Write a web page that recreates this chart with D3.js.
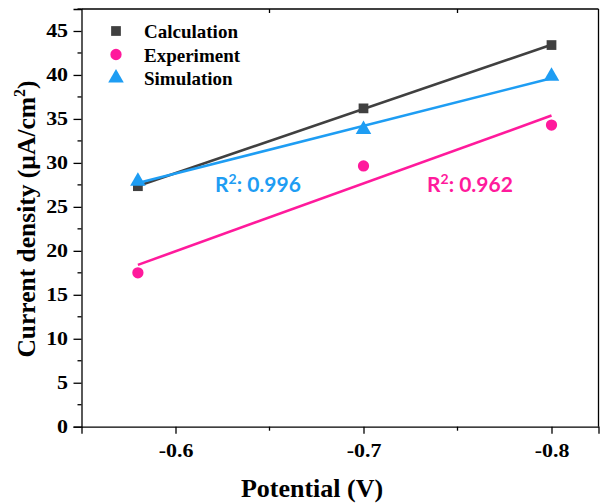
<!DOCTYPE html>
<html>
<head>
<meta charset="utf-8">
<script src="https://cdn.jsdelivr.net/npm/d3@7"></script>
<style>
  html, body { margin: 0; padding: 0; background: #fff; }
  svg { display: block; }
</style>
</head>
<body>
<svg id="chart" width="600" height="503"></svg>
<script>
// Potential (V) at which each current density was obtained
const potentials = [-0.58, -0.7, -0.8];
// Current density (µA/cm²) per series
const calculation = [27.35, 36.2, 43.4];
const experiment = [17.5, 29.65, 34.3];
const simulation = [27.9, 33.8, 39.85];
// Axis ticks
const xMajorTicks = [-0.6, -0.7, -0.8];
const xMinorTicks = [-0.65, -0.75];
const yMajorTicks = [0, 5, 10, 15, 20, 25, 30, 35, 40, 45];
const yMinorTicks = [2.5, 7.5, 12.5, 17.5, 22.5, 27.5, 32.5, 37.5, 42.5, 47.5];
// Goodness-of-fit labels
const r2Simulation = "0.996";
const r2Experiment = "0.962";

const colors = { calc: "#404040", exp: "#FF1A9C", sim: "#1E9DF3" };
const serif = "'Liberation Serif', 'Times New Roman', serif";

const svg = d3.select("#chart");
const x = d3.scaleLinear().domain([-0.55, -0.825]).range([81.5, 598.5]);
const y = d3.scaleLinear().domain([0, 47.5]).range([426.7, 9]);

// Least-squares linear fit evaluated at the first and last potential
function fitLine(xs, ys) {
  const mx = d3.mean(xs), my = d3.mean(ys);
  const sxy = d3.sum(xs, (v, i) => (v - mx) * (ys[i] - my));
  const sxx = d3.sum(xs, v => (v - mx) * (v - mx));
  const b = sxy / sxx, a = my - b * mx;
  const ends = [xs[0], xs[xs.length - 1]];
  return ends.map(v => [v, a + b * v]);
}

// Frame: top and right borders
const [x0, x1] = x.range();
const [yb, yt] = y.range();
svg.append("line").attr("x1", x0).attr("x2", x1).attr("y1", yt).attr("y2", yt)
  .attr("stroke", "#000").attr("stroke-width", 1.3);
svg.append("line").attr("x1", x1).attr("x2", x1).attr("y1", yt).attr("y2", yb)
  .attr("stroke", "#000").attr("stroke-width", 1.3);
// Top border carries small inward ticks at the minor positions
svg.selectAll(".topTick").data(xMinorTicks).join("line")
  .attr("x1", d => x(d)).attr("x2", d => x(d))
  .attr("y1", yt).attr("y2", yt + 4)
  .attr("stroke", "#000").attr("stroke-width", 1.3);

// Bottom axis (plain hyphen for the minus sign)
const gx = svg.append("g").attr("transform", `translate(0,${yb})`)
  .call(d3.axisBottom(x).tickValues(xMajorTicks).tickSize(7).tickPadding(6)
    .tickFormat(d => d.toFixed(1)));
gx.append("g").selectAll("line").data(xMinorTicks).join("line")
  .attr("x1", d => x(d)).attr("x2", d => x(d)).attr("y1", 0).attr("y2", 4)
  .attr("stroke", "#000").attr("stroke-width", 1.3);

// Left axis
const gy = svg.append("g").attr("transform", `translate(${x0},0)`)
  .call(d3.axisLeft(y).tickValues(yMajorTicks).tickSize(8).tickPadding(3));
gy.append("g").selectAll("line").data(yMinorTicks).join("line")
  .attr("x1", 0).attr("x2", -4).attr("y1", d => y(d)).attr("y2", d => y(d))
  .attr("stroke", "#000").attr("stroke-width", 1.3);

[gx, gy].forEach(g => {
  g.select(".domain").attr("stroke", "#000").attr("stroke-width", 1.3);
  g.selectAll(".tick line").attr("stroke", "#000").attr("stroke-width", 1.3);
  g.selectAll(".tick text")
    .attr("fill", "#000")
    .style("font-family", serif)
    .style("font-weight", "bold")
    .style("font-size", "18px")
    .attr("transform", "scale(1.22,1)");
});
gx.selectAll(".tick text").attr("dy", "0.95em");

// Axis titles
svg.append("text")
  .attr("x", 312).attr("y", 497)
  .attr("text-anchor", "middle")
  .style("font-family", serif).style("font-weight", "bold").style("font-size", "26px")
  .text("Potential (V)");

const yTitle = svg.append("text")
  .attr("transform", "translate(35,219) rotate(-90)")
  .attr("text-anchor", "middle")
  .style("font-family", serif).style("font-weight", "bold").style("font-size", "25.5px");
yTitle.append("tspan").text("Current density (µA/cm");
yTitle.append("tspan").attr("dy", -10).style("font-size", "16px").text("2");
yTitle.append("tspan").attr("dy", 10).text(")");

// Fit lines
const line = d3.line().x(d => x(d[0])).y(d => y(d[1]));
const series = [
  { key: "calc", values: calculation },
  { key: "sim", values: simulation },
  { key: "exp", values: experiment }
];
series.forEach(s => {
  svg.append("path")
    .datum(fitLine(potentials, s.values))
    .attr("d", line)
    .attr("fill", "none")
    .attr("stroke", colors[s.key])
    .attr("stroke-width", 2.6);
});

// Markers
const sq = d3.symbol().type(d3.symbolSquare).size(95);
const ci = d3.symbol().type(d3.symbolCircle).size(100);
const tri = d3.symbol().type(d3.symbolTriangle).size(105);

svg.selectAll(".calcPt").data(calculation).join("path")
  .attr("d", sq)
  .attr("transform", (d, i) => `translate(${x(potentials[i])},${y(d)})`)
  .attr("fill", colors.calc);
svg.selectAll(".expPt").data(experiment).join("path")
  .attr("d", ci)
  .attr("transform", (d, i) => `translate(${x(potentials[i])},${y(d)})`)
  .attr("fill", colors.exp);
svg.selectAll(".simPt").data(simulation).join("path")
  .attr("d", tri)
  .attr("transform", (d, i) => `translate(${x(potentials[i])},${y(d)})`)
  .attr("fill", colors.sim);

// Legend
const legendItems = [
  { label: "Calculation", sym: sq, color: colors.calc },
  { label: "Experiment", sym: ci, color: colors.exp },
  { label: "Simulation", sym: tri, color: colors.sim }
];
const lg = svg.append("g");
legendItems.forEach((it, i) => {
  const cy = 31 + i * 23.5;
  lg.append("path").attr("d", it.sym).attr("fill", it.color)
    .attr("transform", `translate(116,${cy})`);
  lg.append("text").attr("x", 144).attr("y", cy + 7)
    .style("font-family", serif).style("font-weight", "bold").style("font-size", "19px")
    .text(it.label);
});

// R² annotations
function r2Label(px, py, value, color) {
  const t = svg.append("text").attr("x", px).attr("y", py)
    .attr("fill", color)
    .style("font-family", "Lato, 'Open Sans', sans-serif")
    .style("font-weight", "bold").style("font-size", "21px");
  t.append("tspan").text("R");
  t.append("tspan").attr("dy", -8).style("font-size", "14px").text("2");
  t.append("tspan").attr("dy", 8).text(": " + value);
}
r2Label(215, 192, r2Simulation, colors.sim);
r2Label(427, 192, r2Experiment, colors.exp);
</script>
</body>
</html>
